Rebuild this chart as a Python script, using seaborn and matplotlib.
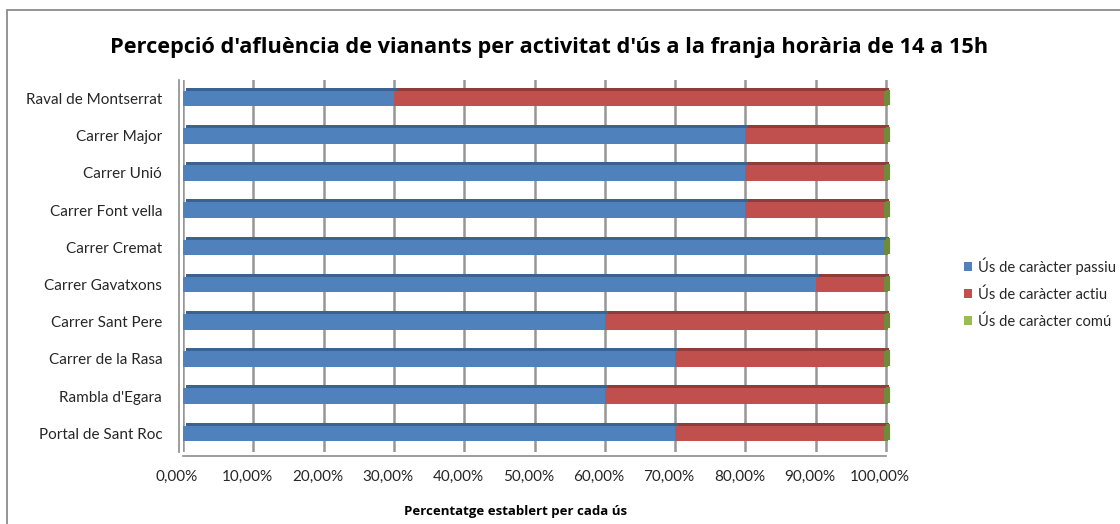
import matplotlib
matplotlib.use("Agg")
import matplotlib.pyplot as plt
import matplotlib.patheffects as pe
import matplotlib.transforms as mtransforms
from matplotlib.patches import Patch, Rectangle
import seaborn as sns
import pandas as pd
import numpy as np

# ---- data ----
categories = ["Raval de Montserrat", "Carrer Major", "Carrer Unió", "Carrer Font vella",
              "Carrer Cremat", "Carrer Gavatxons", "Carrer Sant Pere", "Carrer de la Rasa",
              "Rambla d'Egara", "Portal de Sant Roc"]
passiu = [0.30, 0.80, 0.80, 0.80, 1.00, 0.90, 0.60, 0.70, 0.60, 0.70]
actiu = [0.70, 0.20, 0.20, 0.20, 0.00, 0.10, 0.40, 0.30, 0.40, 0.30]
comu = [0.0, 0.0, 0.0, 0.0, 0.0, 0.0, 0.0, 0.0, 0.0, 0.0]
series_names = ["Ús de caràcter passiu", "Ús de caràcter actiu", "Ús de caràcter comú"]
xticks = [0.0, 0.1, 0.2, 0.3, 0.4, 0.5, 0.6, 0.7, 0.8, 0.9, 1.0]
xtick_labels = ["0,00%", "10,00%", "20,00%", "30,00%", "40,00%", "50,00%",
                "60,00%", "70,00%", "80,00%", "90,00%", "100,00%"]
title = "Percepció d'afluència de vianants per activitat d'ús a la franja horària de 14 a 15h"
xlabel = "Percentatge establert per cada ús"

colors = ["#4F81BD", "#C0504D", "#9BBB59"]
tops = ["#3B6391", "#923C3A", "#6F8A38"]

sns.set_theme(style="white")
plt.rcParams["font.family"] = ["Lato", "DejaVu Sans"]

W, H = 1120, 524
PX_PER_UNIT = 703.0
XMAX = 1.0 + 12 / PX_PER_UNIT

fig = plt.figure(figsize=(W / 100, H / 100), dpi=100)
ax = fig.add_axes([183 / W, 1 - 452 / H, PX_PER_UNIT * XMAX / W, 372 / H])

df = pd.DataFrame({"cat": categories, "passiu": passiu, "actiu": actiu, "comu": comu})
df["left_actiu"] = df["passiu"]
df["left_comu"] = df["passiu"] + df["actiu"]

bw = 0.42
shadow = dict(offset=(2.2, 2.2), alpha=1)
sns.barplot(data=df, y="cat", x="passiu", orient="h", color=colors[0], width=bw,
            saturation=1, ax=ax, linewidth=0, zorder=3,
            path_effects=[pe.SimplePatchShadow(shadow_rgbFace=tops[0], **shadow), pe.Normal()])
sns.barplot(data=df, y="cat", x="actiu", orient="h", color=colors[1], width=bw,
            saturation=1, ax=ax, linewidth=0, left=df["left_actiu"].to_numpy(), zorder=3,
            path_effects=[pe.SimplePatchShadow(shadow_rgbFace=tops[1], **shadow), pe.Normal()])
sns.barplot(data=df, y="cat", x="comu", orient="h", color=colors[2], width=bw,
            saturation=1, ax=ax, linewidth=3.0, edgecolor=tops[2],
            left=df["left_comu"].to_numpy(), zorder=4,
            path_effects=[pe.Stroke(offset=(1.6, 0.9), linewidth=3.0, foreground=tops[2]), pe.Normal()])

ax.set_xlim(0, XMAX)
ax.set_ylim(len(categories) - 0.5, -0.5)

ax.set_xticks(xticks)
ax.grid(axis="x", which="major", color="#969696", linewidth=1.8, zorder=1)
ax.set_axisbelow(True)

ax.set_xticklabels(xtick_labels, fontsize=11, color="#222222")
ax.set_yticks(range(len(categories)))
ax.set_yticklabels(categories, fontsize=11, color="#222222")
ax.set_yticks(np.arange(-0.5, len(categories), 1), minor=True)
ax.tick_params(axis="y", which="major", length=0, pad=12)
ax.tick_params(axis="y", which="minor", length=3.6, width=1, color="#8c8c8c", direction="out")
ax.tick_params(axis="x", which="major", length=3.6, width=1, color="#8c8c8c", direction="out", pad=6)
ax.set_xlabel("")
ax.set_ylabel("")

for s in ["top", "right"]:
    ax.spines[s].set_visible(False)
for s in ["left", "bottom"]:
    ax.spines[s].set_color("#8c8c8c")
    ax.spines[s].set_linewidth(1.2)
    ax.spines[s].set_position(("outward", 3))
ax.spines["bottom"].set_bounds(0, 1.0)

lab_off = mtransforms.ScaledTranslation(-6 / 100, 0, fig.dpi_scale_trans)
for lbl in ax.get_xticklabels():
    lbl.set_transform(lbl.get_transform() + lab_off)

fig.text(549 / W, 1 - 47 / H, title, ha="center", va="center", fontsize=15.7,
         fontweight="bold", color="#000000", family=["Open Sans", "DejaVu Sans"])
fig.text(516 / W, 1 - 511 / H, xlabel, ha="center", va="center", fontsize=9.5,
         fontweight="bold", color="#000000", family=["Open Sans", "DejaVu Sans"])

handles = [Patch(facecolor=c, edgecolor="none") for c in colors]
fig.legend(handles, series_names, loc="center left", bbox_to_anchor=(958 / W, 1 - 293 / H),
           frameon=False, fontsize=10.6, handlelength=0.55, handleheight=0.55,
           handletextpad=0.4, labelspacing=0.85, borderaxespad=0)

# outer chart frame
fig.patches.append(Rectangle((7 / W, -0.1), 1.2, 1 - 10 / H + 0.1, transform=fig.transFigure,
                             fill=False, edgecolor="#8c8c8c", lw=1.3))

fig.savefig("out.png", dpi=100, facecolor="white")
